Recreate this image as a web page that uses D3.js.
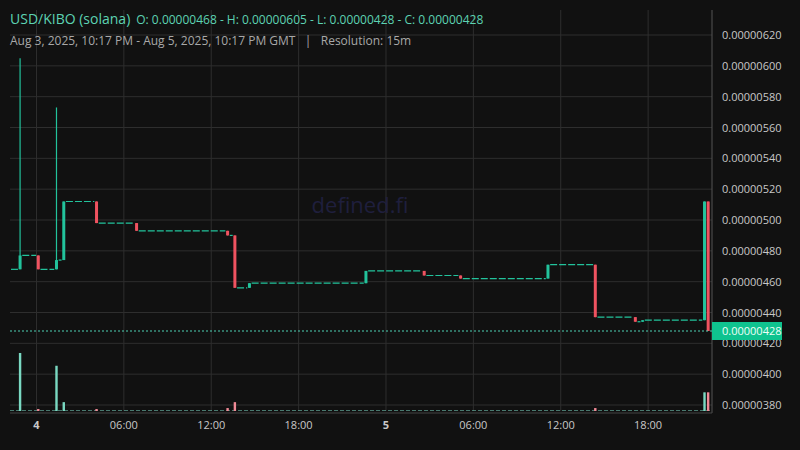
<!DOCTYPE html>
<html><head><meta charset="utf-8">
<script src="https://cdn.jsdelivr.net/npm/d3@7"></script>
<style>body{margin:0;background:#111111;}svg{display:block;font-family:"Open Sans",sans-serif;}</style>
</head><body><svg id="c" width="800" height="450"></svg>
<script>
// active (non-flat) 15m candles: index from Aug 3 22:15 GMT
const candleIdx   = [2, 7, 12, 14, 23, 34, 59, 61, 65, 97, 113, 123, 147, 160, 171, 173, 190, 191];
const candleOpen  = [468, 477, 468, 474, 512, 498, 493, 490, 456, 459, 467, 464, 462, 471, 437, 434, 435, 512];
const candleHigh  = [605, 477, 573, 512, 512, 498, 493, 490, 459, 467, 467, 464, 471, 471, 437, 435, 512, 512];
const candleLow   = [468, 468, 468, 474, 498, 493, 490, 456, 456, 459, 464, 462, 462, 437, 434, 434, 435, 428];
const candleClose = [477, 468, 474, 512, 498, 493, 490, 456, 459, 467, 464, 462, 471, 437, 434, 435, 512, 428];
const firstPrice = 468;
const volIdx = [2, 7, 12, 14, 23, 59, 61, 160, 190, 191];
const volVal = [59, 2, 46, 9, 2, 3, 9, 3, 19, 19];
const volUp  = [1, 0, 1, 1, 0, 0, 0, 0, 1, 0];
const yTicks = [380, 400, 420, 440, 460, 480, 500, 520, 540, 560, 580, 600, 620];
const lastPrice = 428;

const svg = d3.select("#c");
const W = 800, H = 450, plotR = 712;
const green = "#22c39c", red = "#ef5360";
svg.append("rect").attr("width", W).attr("height", H).attr("fill", "#111111");

const t0 = new Date(Date.UTC(2025, 7, 3, 22, 15));
const t1 = new Date(Date.UTC(2025, 7, 5, 22, 15));
const x = d3.scaleUtc().domain([t0, t1]).range([11, 710]);
const y = d3.scaleLinear().domain([380, 620]).range([405, 35]);
const tAt = i => new Date(t0.getTime() + i * 15 * 60000);
const cx = i => x(tAt(i)) + 1.8;
const fmt = v => (v / 1e8).toFixed(8);

// grid
const xTicks = d3.utcHours(new Date(Date.UTC(2025,7,4,0)), t1, 6);
svg.append("g").selectAll("line").data(yTicks).join("line")
  .attr("x1", 10).attr("x2", plotR).attr("y1", d => y(d)).attr("y2", d => y(d))
  .attr("stroke", "#2e2e2e");
svg.append("g").selectAll("line").data(xTicks).join("line")
  .attr("x1", d => x(d)).attr("x2", d => x(d)).attr("y1", 10).attr("y2", 411)
  .attr("stroke", "#2e2e2e");
svg.append("line").attr("x1", plotR).attr("x2", plotR).attr("y1", 10).attr("y2", 413).attr("stroke", "#555");
svg.append("line").attr("x1", 10).attr("x2", plotR).attr("y1", 413).attr("y2", 413).attr("stroke", "#444");

// watermark
svg.append("text").attr("x", 360).attr("y", 213).attr("text-anchor", "middle")
  .attr("font-size", 22).attr("fill", "#1f1f3d").text("defined.fi");

// y labels
svg.append("g").selectAll("text").data(yTicks).join("text")
  .attr("x", 722).attr("y", d => y(d) + 4).attr("font-size", 11).attr("fill", "#c8c8c8").text(d => fmt(d));

// x labels
svg.append("g").selectAll("text").data(xTicks).join("text")
  .attr("x", d => x(d)).attr("y", 429).attr("text-anchor", "middle").attr("font-size", 11)
  .attr("fill", "#c8c8c8").attr("font-weight", d => d.getUTCHours() === 0 ? "bold" : "normal")
  .text(d => d.getUTCHours() === 0 ? d3.utcFormat("%-d")(d) : d3.utcFormat("%H:%M")(d));

// volume
const vy = d3.scaleLinear().domain([0, 60]).range([411, 352]);
svg.append("line").attr("x1", 10).attr("x2", plotR).attr("y1", 410.5).attr("y2", 410.5)
  .attr("stroke", "#6fbfae").attr("stroke-dasharray", "4,2").attr("opacity", 0.6);
svg.append("g").selectAll("rect").data(volIdx).join("rect")
  .attr("x", (d) => cx(d) - 1.2).attr("width", 2.4)
  .attr("y", (d, i) => vy(volVal[i])).attr("height", (d, i) => 411 - vy(volVal[i]))
  .attr("fill", (d, i) => volUp[i] ? "#7ad9c2" : "#f08a96");

// flat runs (dashed at previous close)
const flats = [];
flats.push({a: -0.5, b: candleIdx[0] - 0.5, p: firstPrice});
candleIdx.forEach((c, i) => {
  const next = i + 1 < candleIdx.length ? candleIdx[i + 1] : c + 1;
  if (next > c + 1) flats.push({a: c + 0.6, b: next - 0.6, p: candleClose[i]});
});
svg.append("g").selectAll("line").data(flats).join("line")
  .attr("x1", d => cx(d.a)).attr("x2", d => cx(d.b)).attr("y1", d => y(d.p)).attr("y2", d => y(d.p))
  .attr("stroke", green).attr("stroke-width", 1.2).attr("stroke-dasharray", "7,2");

// candles
const cg = svg.append("g");
candleIdx.forEach((c, i) => {
  const up = candleClose[i] >= candleOpen[i];
  const col = up ? green : red;
  cg.append("line").attr("x1", cx(c)).attr("x2", cx(c)).attr("y1", y(candleHigh[i])).attr("y2", y(candleLow[i]))
    .attr("stroke", col).attr("stroke-width", 1.2);
  const top = y(Math.max(candleOpen[i], candleClose[i])), bot = y(Math.min(candleOpen[i], candleClose[i]));
  cg.append("rect").attr("x", cx(c) - 1.5).attr("width", 3).attr("y", top).attr("height", Math.max(1.5, bot - top)).attr("fill", col);
});

// last price line & tag
svg.append("line").attr("x1", 10).attr("x2", plotR).attr("y1", y(lastPrice)).attr("y2", y(lastPrice))
  .attr("stroke", "#4fd1b4").attr("stroke-dasharray", "2,2");
svg.append("rect").attr("x", plotR).attr("y", y(lastPrice) - 9).attr("width", 70).attr("height", 18).attr("fill", "#0fc38f");
svg.append("text").attr("x", 722).attr("y", y(lastPrice) + 4).attr("font-size", 11).attr("fill", "#f0fff8").text(fmt(lastPrice));

// header
const h = svg.append("text").attr("x", 10).attr("y", 24).attr("fill", "#5dd3b3");
h.append("tspan").attr("font-size", 14).text("USD/KIBO (solana)");
h.append("tspan").attr("dx", 6).attr("font-size", 12).text("O: 0.00000468 - H: 0.00000605 - L: 0.00000428 - C: 0.00000428");
svg.append("text").attr("x", 10).attr("y", 45).attr("font-size", 12).attr("fill", "#a8a8a8")
  .style("white-space", "pre")
  .text("Aug 3, 2025, 10:17 PM - Aug 5, 2025, 10:17 PM GMT\u00a0\u00a0\u00a0|\u00a0\u00a0\u00a0Resolution: 15m");
</script></body></html>
